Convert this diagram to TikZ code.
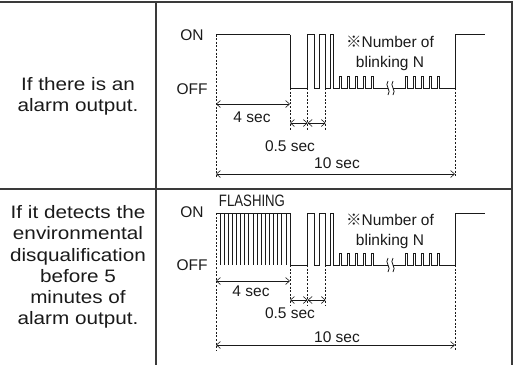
\documentclass[tikz,border=0pt]{standalone}
\usepackage{fontspec}
\setmainfont{Liberation Sans}
\newfontfamily\widefont[FakeStretch=1.15]{Liberation Sans}
\newfontfamily\condfont[FakeStretch=0.8]{Liberation Sans}
\newfontfamily\cjk{Noto Sans CJK JP}
\usepackage{tikz}
\usetikzlibrary{arrows.meta}
\definecolor{frameGray}{HTML}{3A3A3A}
\definecolor{inkBlack}{HTML}{1A1A1A}

\begin{document}
\begin{tikzpicture}[x=1pt,y=-1pt,
  frame/.style={draw=frameGray,line width=1.4pt},
  cell/.style={align=center,font=\widefont\fontsize{18}{21.3}\selectfont,text=inkBlack,inner sep=0pt},
  lbl/.style={font=\fontsize{15.5}{20}\selectfont,text=inkBlack,inner sep=0pt,align=center},
  sig/.style={draw=inkBlack,line width=0.8pt},
  guide/.style={draw=inkBlack,line width=0.8pt,dash pattern=on 2pt off 1.6pt},
  dim/.style={draw=inkBlack,line width=0.6pt,{Straight Barb[length=4pt,width=7pt]}-{Straight Barb[length=4pt,width=7pt]}}]
\useasboundingbox (0,0) rectangle (517,365);
% table
\draw[frame] (0,2) -- (512,2) -- (512,365);
\draw[frame] (156,2) -- (156,365);
\draw[frame] (0,189) -- (512,189);
\node[cell] (caseAlarm) at (78,96) {If there is an\\alarm output.};
\node[cell] (caseEnv) at (78,267) {If it detects the\\environmental\\disqualification\\before 5\\minutes of\\alarm output.};
% level labels
\node[lbl] (onA) at (192,35) {ON};
\node[lbl] (offA) at (192,89) {OFF};
\node[lbl] (onB) at (192,212) {ON};
\node[lbl] (offB) at (192,265) {OFF};
\node[lbl,font=\condfont\fontsize{16.5}{18}\selectfont] (flash) at (252,201) {FLASHING};
\node[lbl] (blinkA) at (390,53) {{\cjk ※}Number of\\blinking N};
\node[lbl] (blinkB) at (390,231) {{\cjk ※}Number of\\blinking N};
% waveform, both rows
\foreach \on/\off in {34.5/88,213/265}{
  \draw[sig] (290,\on) -- (290,\off) -- (307.7,\off) -- (307.7,\on) -- (314.3,\on) -- (314.3,\off)
    -- (319.3,\off) -- (319.3,\on) -- (325.7,\on) -- (325.7,\off) -- (330,\off) -- (330,\on)
    -- (333,\on) -- (333,\off)
    \foreach \x in {339,347,355,363,371}{ -- (\x,\off) -- (\x,\off-12) -- (\x+2,\off-12) -- (\x+2,\off) }
    -- (388,\off);
  \draw[sig] (388,\off-7) .. controls (384,\off-2) and (392,\off+2) .. (388,\off+7);
  \draw[sig] (393,\off-7) .. controls (389,\off-2) and (397,\off+2) .. (393,\off+7);
  \draw[sig] (393,\off)
    \foreach \x in {405,413,421,429,437}{ -- (\x,\off) -- (\x,\off-12) -- (\x+2,\off-12) -- (\x+2,\off) }
    -- (455,\off) -- (455,\on) -- (485,\on);
}
\draw[sig] (216,34.5) -- (290,34.5);
\draw[sig] (216,213) -- (290,213);
\foreach \i in {0,...,17}
  \draw[sig] (220+4.12*\i,213) -- (220+4.12*\i,265);
% guides row 1
\coordinate (a0) at (216,34.5);
\coordinate (a4) at (290,88);
\coordinate (a45) at (307.7,88);
\coordinate (a5) at (325.7,88);
\coordinate (a10) at (455,88);
\draw[guide] (a0) -- ++(0,143);
\draw[guide] (a4) -- ++(0,43);
\draw[guide] (a45) -- ++(0,43);
\draw[guide] (a5) -- ++(0,43);
\draw[guide] (a10) -- ++(0,89);
\draw[dim] (216,104) -- (290,104);
\draw[dim] (290,123) -- (307.7,123);
\draw[dim] (307.7,123) -- (325.7,123);
\draw[dim] (216,174) -- (455,174);
\node[lbl] (fourA) at (252,117) {4 sec};
\node[lbl] (halfA) at (290,146) {0.5 sec};
\node[lbl] (tenA) at (337,163) {10 sec};
% guides row 2
\coordinate (b0) at (216,213);
\coordinate (b4) at (290,265);
\coordinate (b45) at (307.7,265);
\coordinate (b5) at (325.7,265);
\coordinate (b10) at (455,265);
\draw[guide] (b0) -- ++(0,137);
\draw[guide] (b4) -- ++(0,40);
\draw[guide] (b45) -- ++(0,40);
\draw[guide] (b5) -- ++(0,40);
\draw[guide] (b10) -- ++(0,85);
\draw[dim] (216,281) -- (290,281);
\draw[dim] (290,300) -- (307.7,300);
\draw[dim] (307.7,300) -- (325.7,300);
\draw[dim] (216,345) -- (455,345);
\node[lbl] (fourB) at (251,291) {4 sec};
\node[lbl] (halfB) at (290,313) {0.5 sec};
\node[lbl] (tenB) at (337,337) {10 sec};
\end{tikzpicture}
\end{document}
